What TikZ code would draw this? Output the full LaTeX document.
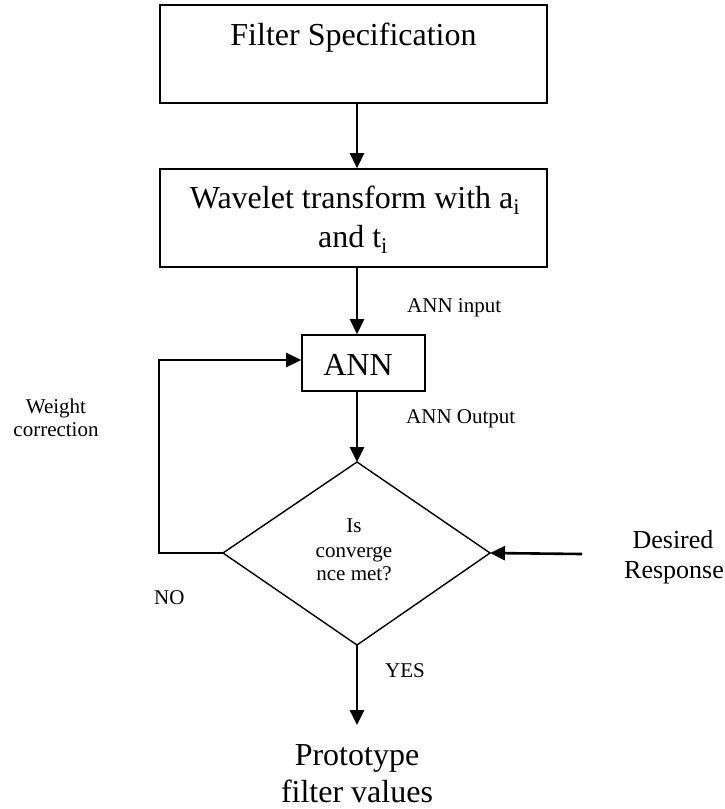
\documentclass[tikz,border=0pt]{standalone}
\usepackage{fontspec}
\setmainfont{Liberation Serif}
\usetikzlibrary{arrows.meta}
\begin{document}
\begin{tikzpicture}[x=1pt,y=-1pt,
  box/.style={draw, line width=1.6pt, inner sep=0pt},
  flow/.style={line width=2.6pt, -{Triangle[length=15pt,width=14pt]}},
  big/.style={font=\fontsize{32}{39}\selectfont, inner sep=0pt, anchor=base},
  mid/.style={font=\fontsize{26}{30}\selectfont, inner sep=0pt, anchor=base},
  small/.style={font=\fontsize{21}{24}\selectfont, inner sep=0pt, anchor=base},
]
\useasboundingbox (0,0) rectangle (725,809);

% vertical axis of the flow
\coordinate (axis) at (357,0);

% process boxes
\node[box, minimum width=387pt, minimum height=98pt] (spec) at (353.5,54) {};
\node[big] (spectext) at (353.5,45) {Filter Specification};

\node[box, minimum width=387pt, minimum height=98pt] (wave) at (353.5,218) {};
\node[big] (wave1) at (355,208) {Wavelet transform with a\textsubscript{i}};
\node[big] (wave2) at (353,247) {and t\textsubscript{i}};

\node[box, minimum width=123pt, minimum height=56pt] (ann) at (363.5,363) {};
\node[big] (anntext) at (358,375) {ANN};

% decision diamond
\coordinate (dt) at (357,462);
\coordinate (dr) at (490,553);
\coordinate (db) at (357,645);
\coordinate (dl) at (223,553);
\draw[line width=1.4pt] (dt) -- (dr) -- (db) -- (dl) -- cycle;
\node[small] (is1) at (354,532) {Is};
\node[small] (is2) at (354,557) {converge};
\node[small] (is3) at (354,580) {nce met?};

% connectors
\draw[flow] (spec.south -| axis) -- (wave.north -| axis);
\draw[flow] (wave.south -| axis) -- (ann.north -| axis);
\draw[flow] (ann.south -| axis) -- (dt);

\coordinate (fbcorner) at (159,553);
\draw[flow] (dl) -- (fbcorner) |- ([yshift=3pt]ann.west);

\coordinate (desired) at (582,554);
\draw[flow] (desired) -- (dr);

\coordinate (result) at (357,725);
\draw[flow] (db) -- (result);

% labels
\node[small, anchor=base west] (lin) at (407,312) {ANN input};
\node[small, anchor=base west] (lout) at (406,423) {ANN Output};
\node[small] (lw1) at (56,413) {Weight};
\node[small] (lw2) at (56,436) {correction};
\node[small, anchor=base west] (lno) at (154,604) {NO};
\node[small, anchor=base west] (lyes) at (385,677) {YES};
\node[mid] (ld1) at (673,548) {Desired};
\node[mid] (ld2) at (674,578) {Response};
\node[big] (lp1) at (357,765) {Prototype};
\node[big] (lp2) at (357,802) {filter values};
\end{tikzpicture}
\end{document}
